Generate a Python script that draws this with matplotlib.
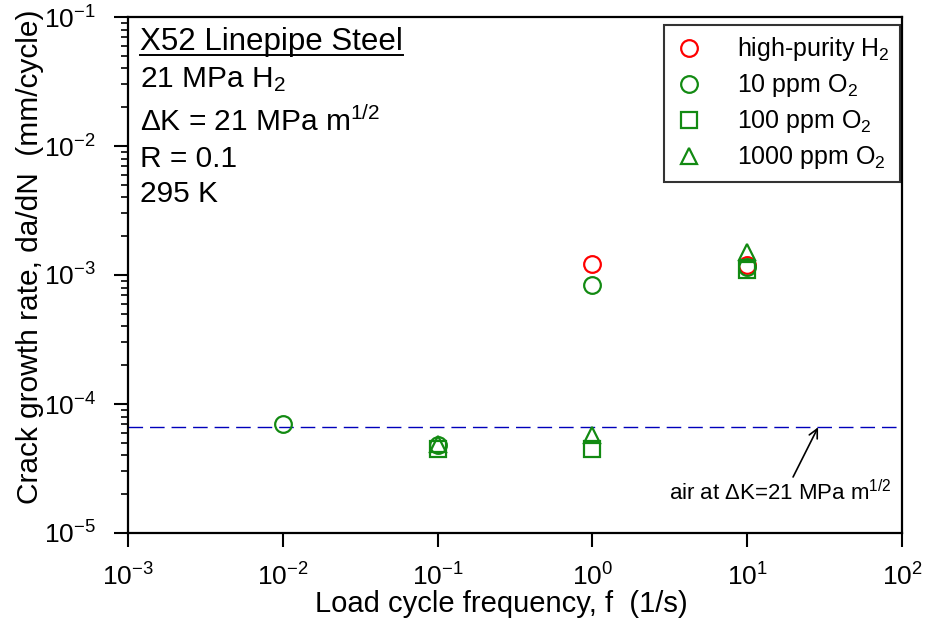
import matplotlib
matplotlib.use("Agg")
import matplotlib.pyplot as plt
from matplotlib.lines import Line2D

plt.rcParams["font.family"] = ["Liberation Sans", "DejaVu Sans"]
plt.rcParams["mathtext.fontset"] = "custom"
plt.rcParams["mathtext.rm"] = "Liberation Sans"
plt.rcParams["mathtext.it"] = "Liberation Sans:italic"
plt.rcParams["mathtext.bf"] = "Liberation Sans:bold"

# data (frequency in 1/s, da/dN in mm/cycle)
h2_freq = [1, 10]
h2_rate = [1.22e-3, 1.2e-3]

o2_10_freq = [0.01, 0.1, 1, 10]
o2_10_rate = [7.0e-5, 4.8e-5, 8.4e-4, 1.15e-3]

o2_100_freq = [0.1, 1, 10]
o2_100_rate = [4.5e-5, 4.5e-5, 1.1e-3]

o2_1000_freq = [0.1, 1, 10]
o2_1000_rate = [4.9e-5, 5.8e-5, 1.5e-3]

air_rate = 6.6e-5

RED = "#ff0000"
GREEN = "#128a12"

fig = plt.figure(figsize=(9.27, 6.2), dpi=100)
ax = fig.add_axes([128 / 927, 1 - 533 / 620, 774 / 927, 516 / 620])

ax.axhline(air_rate, color="#0000bb", lw=1.0, dashes=(10.5, 5))

mk = dict(ls="none", mfc="none", ms=12, mew=1.6)
ax.plot(h2_freq, h2_rate, "o", mec=RED, label="high-purity H$_2$", **mk)
ax.plot(o2_10_freq, o2_10_rate, "o", mec=GREEN, label="10 ppm O$_2$", **mk)
ax.plot(o2_100_freq, o2_100_rate, "s", mec=GREEN, label="100 ppm O$_2$",
        **{**mk, "ms": 11})
ax.plot(o2_1000_freq, o2_1000_rate, "^", mec=GREEN, label="1000 ppm O$_2$",
        **{**mk, "ms": 12})

ax.set_xscale("log")
ax.set_yscale("log")
ax.set_xlim(1e-3, 1e2)
ax.set_ylim(1e-5, 1e-1)

for s in ax.spines.values():
    s.set_linewidth(1.6)

ax.tick_params(axis="both", which="major", direction="out", length=10,
               width=1.5, labelsize=19)
ax.tick_params(axis="x", which="major", pad=12)
ax.tick_params(axis="y", which="major", pad=13)
ax.tick_params(axis="y", which="minor", direction="out", length=5, width=1.2)
ax.tick_params(axis="x", which="minor", length=0)
ax.xaxis.set_minor_locator(plt.NullLocator())

ax.set_xlabel("Load cycle frequency, f  (1/s)", fontsize=21)
ax.set_ylabel("Crack growth rate, da/dN  (mm/cycle)", fontsize=21.5)
ax.xaxis.set_label_coords(0.482, -0.138)
ax.yaxis.set_label_coords(-0.127, 0.535)
ax.xaxis.label.set_va("center")
ax.yaxis.label.set_va("center")

leg = ax.legend(loc="upper right", bbox_to_anchor=(0.9974, 0.9845),
                fontsize=18, frameon=True, fancybox=False,
                edgecolor="black", borderaxespad=0.0, labelspacing=0.36,
                handletextpad=1.3, borderpad=0.42, handlelength=1.2)
leg.get_frame().set_linewidth(1.5)

# condition notes, top-left
notes = [
    ("X52 Linepipe Steel", 0.936),
    ("21 MPa H$_2$", 0.864),
    ("$\\Delta$K = 21 MPa m$^{1/2}$", 0.779),
    ("R = 0.1", 0.709),
    ("295 K", 0.641),
]
title_txt = None
for txt, yy in notes:
    t = ax.text(0.0155, yy, txt, transform=ax.transAxes, fontsize=21.5,
                va="baseline", ha="left")
    if title_txt is None:
        title_txt = t
title_txt.set_fontsize(22.5)

ax.annotate("air at $\\Delta$K=21 MPa m$^{1/2}$",
            xy=(28.7, air_rate), xytext=(0.987, 0.064),
            textcoords="axes fraction", fontsize=16, ha="right",
            va="baseline",
            arrowprops=dict(arrowstyle="->", color="black", lw=1.2,
                            shrinkA=0, shrinkB=0, relpos=(0.55, 1.0)))

# underline the title line
fig.canvas.draw()
bb = title_txt.get_window_extent()
inv = fig.transFigure.inverted()
(x0, y0), (x1, _) = inv.transform([(bb.x0, bb.y0 + 2), (bb.x1, bb.y0 + 2)])
fig.add_artist(Line2D([x0, x1], [y0, y0], color="black", lw=1.4,
                      transform=fig.transFigure))

fig.savefig("out.png", dpi=100, facecolor="white")
